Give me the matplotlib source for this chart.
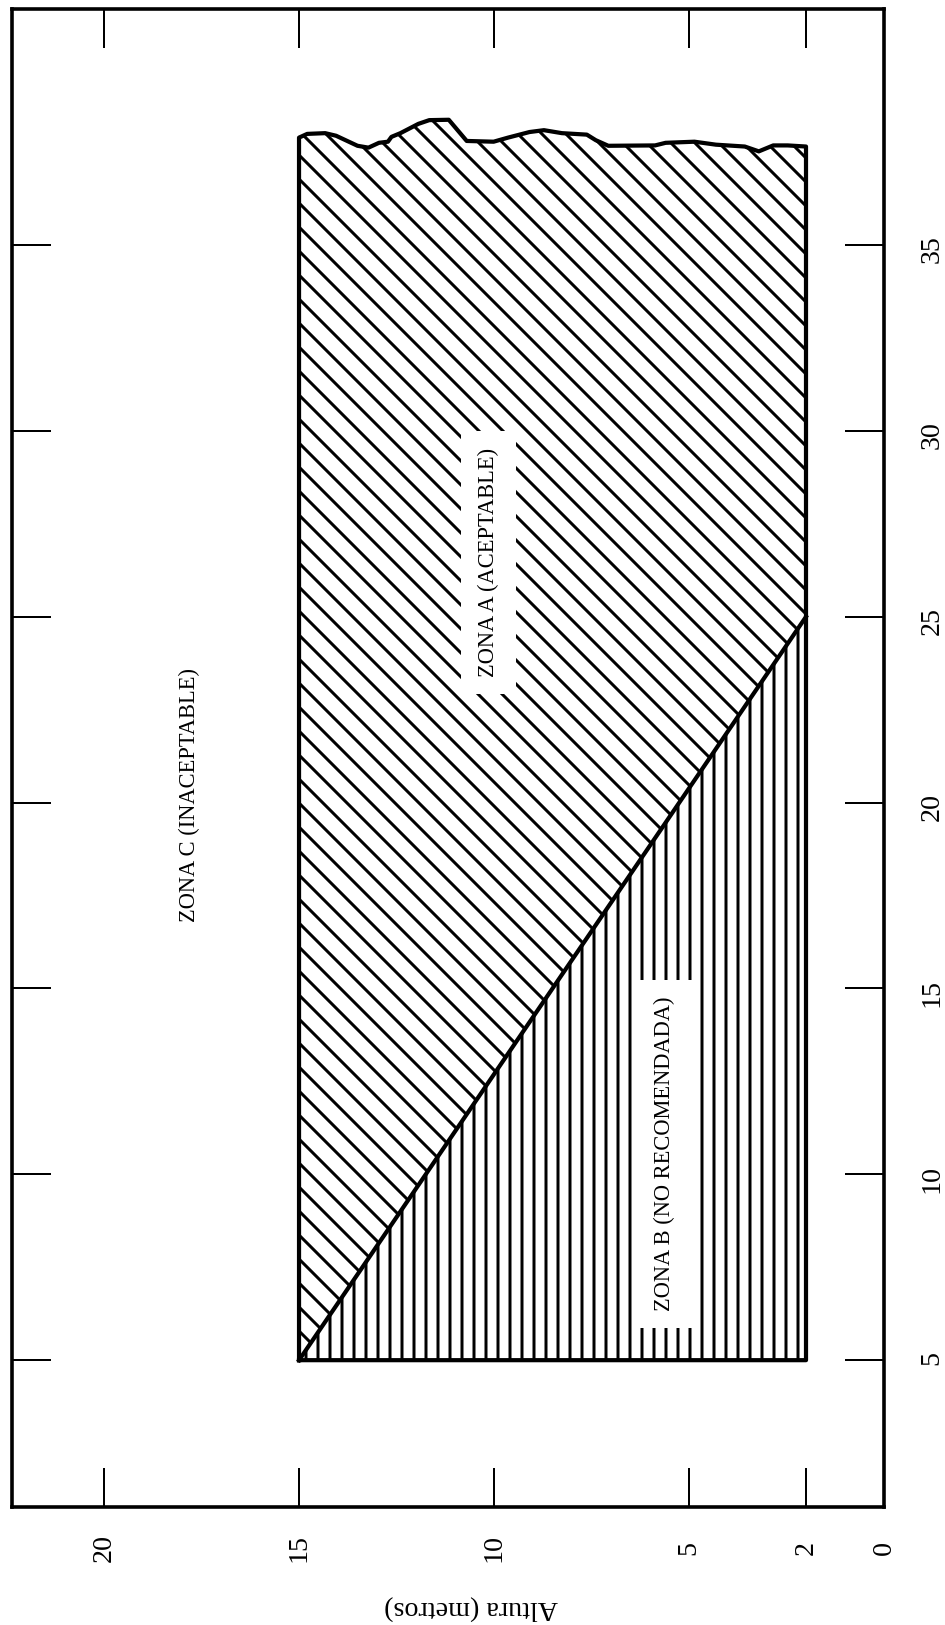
import numpy as np
import matplotlib.pyplot as plt
from matplotlib.patches import Polygon

plt.rcParams['font.family'] = ['Liberation Serif', 'DejaVu Serif']
plt.rcParams['hatch.linewidth'] = 1.5
plt.rcParams['hatch.color'] = 'black'

# ejes (la figura original esta girada 90 grados)
altura_ticks = [0, 2, 5, 10, 15, 20]
dist_ticks = [5, 10, 15, 20, 25, 30, 35]

# limites de las zonas
alt_min, alt_max = 2, 15
dist_min = 5
diag_alt = [15, 2]
diag_dist = [5, 25]

# borde superior irregular (de altura 15 a altura 2)
borde_alt = [15.0, 14.79, 14.33, 14.05, 13.50, 13.22, 12.95, 12.72, 12.63, 12.40,
             11.94, 11.66, 11.16, 10.70, 10.01, 9.64, 9.09, 8.72, 8.26, 7.62,
             7.39, 7.07, 5.87, 5.60, 4.86, 4.31, 3.57, 3.21, 2.84, 2.47, 2.0]
borde_dist = [37.89, 37.99, 38.01, 37.94, 37.67, 37.62, 37.75, 37.78, 37.91, 38.01,
              38.26, 38.36, 38.37, 37.80, 37.78, 37.89, 38.04, 38.09, 38.01, 37.97,
              37.82, 37.67, 37.68, 37.75, 37.78, 37.70, 37.65, 37.52, 37.68, 37.68, 37.65]

fig = plt.figure(figsize=(945 / 144, 1625 / 144), dpi=144)
ax = fig.add_axes([12 / 945, 118 / 1625, 872 / 945, 1498 / 1625])
ax.set_xlim(22.36, 0)
ax.set_ylim(1.05, 41.35)

# zona B (triangulo inferior)
zona_b = list(zip([alt_max, alt_min, diag_alt[1]], [dist_min, dist_min, diag_dist[1]]))
ax.add_patch(Polygon(zona_b, closed=True, facecolor='white', edgecolor='black',
                     hatch='||', lw=0, zorder=1))

# zona A (encima de la diagonal)
zona_a = [(diag_alt[0], diag_dist[0]), (diag_alt[1], diag_dist[1])]
zona_a += list(zip(borde_alt[::-1], borde_dist[::-1]))
ax.add_patch(Polygon(zona_a, closed=True, facecolor='white', edgecolor='black',
                     hatch='\\\\', lw=0, zorder=1))

# contorno
cont_alt = [alt_max, alt_min, alt_min] + borde_alt[::-1] + [alt_max]
cont_dist = [dist_min, dist_min, borde_dist[-1]] + borde_dist[::-1] + [dist_min]
ax.plot(cont_alt, cont_dist, color='black', lw=2.1, solid_joinstyle='round', zorder=3)
ax.plot(diag_alt, diag_dist, color='black', lw=2.1, zorder=3)

box = dict(facecolor='white', edgecolor='none', boxstyle='square,pad=0.75')
ax.text(17.8, 20.2, 'ZONA C (INACEPTABLE)', rotation=90, ha='center', va='center',
        fontsize=11.25)
ax.text(10.15, 26.47, 'ZONA A (ACEPTABLE)', rotation=90, ha='center', va='center',
        fontsize=11.25, bbox=box, zorder=4)
ax.text(5.62, 10.54, 'ZONA B (NO RECOMENDADA)', rotation=90, ha='center', va='center',
        fontsize=11.25, bbox=box, zorder=4)

ax.set_xticks(altura_ticks)
ax.set_xticklabels([str(v) for v in altura_ticks], rotation=90, va='center')
ax.set_yticks(dist_ticks)
ax.set_yticklabels([str(v) for v in dist_ticks], rotation=90, ha='center')
ax.tick_params(axis='x', direction='in', top=True, bottom=True, length=19.5, width=1,
               pad=20.5, labelsize=14)
ax.tick_params(axis='y', direction='in', left=True, right=True, labelleft=False,
               labelright=True, length=19.5, width=1, pad=24, labelsize=14)
for s in ax.spines.values():
    s.set_linewidth(1.8)

ax.set_xlabel('Altura (metros)', rotation=180, fontsize=14, va='center')
ax.xaxis.set_label_coords(0.527, -0.067)

fig.savefig('out.png', dpi=144)
